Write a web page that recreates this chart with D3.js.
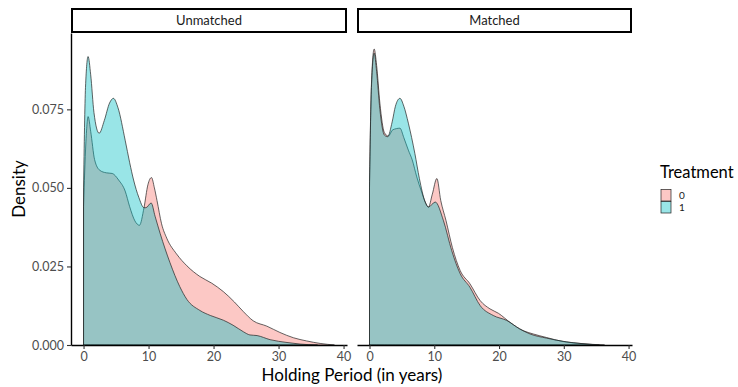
<!DOCTYPE html>
<html>
<head>
<meta charset="UTF-8">
<title>Holding period density</title>
<style>
  body { margin: 0; background: #fff; }
  svg { display: block; font-family: "Lato", "Noto Sans", sans-serif; }
</style>
</head>
<body>
<svg></svg>
<script src="https://d3js.org/d3.v7.min.js"></script>
<script>

let width = 738, height = 387;

// facets and legend groups
const panels = ["Unmatched", "Matched"];
const treatments = ["0", "1"];
const fills = ["#F8766D", "#00BFC4"];

const xTicks = [0, 10, 20, 30, 40];
const yTicks = [0, 0.025, 0.05, 0.075];

// density curves: [years, density]
const unmatched0 = [[0,0.044],[0.35,0.064],[0.7,0.0727],[1.1,0.068],[1.7,0.059],[2.5,0.0556],[3.5,0.0548],
  [4.4,0.0546],[5.4,0.0525],[6.4,0.049],[7.1,0.044],[7.9,0.0395],[8.6,0.0381],[9.3,0.0437],[9.9,0.051],
  [10.45,0.0533],[10.9,0.050],[11.3,0.046],[12.0,0.0386],[12.8,0.034],[14.3,0.029],[15.9,0.0252],
  [17.9,0.0218],[19.7,0.0197],[21.5,0.017],[23.2,0.0137],[24.6,0.0106],[26.1,0.0077],[28.2,0.006],
  [30.2,0.004],[32.3,0.0023],[34.3,0.0013],[36.4,0.0005],[38.6,0]];
const unmatched1 = [[0,0.050],[0.3,0.082],[0.7,0.0918],[1.1,0.086],[1.6,0.074],[2.4,0.0674],[3.2,0.0715],
  [4.0,0.077],[4.6,0.0785],[5.3,0.0755],[6.4,0.0652],[7.1,0.058],[7.7,0.0525],[8.5,0.047],[9.3,0.0437],
  [9.6,0.0437],[10.4,0.0452],[11.0,0.041],[11.8,0.0354],[13.3,0.0262],[14.8,0.0186],[15.9,0.0145],
  [17.9,0.011],[19.5,0.0094],[21.5,0.0079],[23.0,0.0063],[24.6,0.0042],[25.6,0.0032],[26.7,0.003],
  [28.7,0.0017],[31.3,0.0008],[33.3,0.0003],[36,0]];
const matched0 = [[0,0.052],[0.3,0.083],[0.72,0.0942],[1.1,0.089],[1.6,0.077],[2.3,0.0676],[2.9,0.0665],
  [3.6,0.0685],[4.7,0.069],[5.3,0.066],[6.0,0.062],[6.6,0.0589],[7.3,0.0535],[8.0,0.049],[8.6,0.0455],
  [9.1,0.0439],[9.7,0.048],[10.4,0.053],[11.0,0.046],[11.8,0.0397],[12.8,0.031],[14.0,0.0237],
  [15.5,0.0195],[17.1,0.0141],[18.6,0.0115],[19.9,0.0101],[21.7,0.0072],[23.7,0.0046],[25.3,0.0035],
  [27.3,0.0024],[29.9,0.0011],[32.5,0.0005],[36.3,0]];
const matched1 = [[0,0.050],[0.3,0.082],[0.72,0.0929],[1.1,0.087],[1.6,0.075],[2.3,0.0668],[2.8,0.0663],
  [3.5,0.071],[4.0,0.076],[4.7,0.0785],[5.3,0.076],[6.0,0.0706],[7.0,0.061],[7.7,0.053],[8.6,0.0455],
  [9.1,0.0439],[10.15,0.0455],[11.4,0.0397],[12.7,0.030],[14.0,0.0227],[15.5,0.0184],[17.1,0.0125],
  [19.1,0.0094],[21.2,0.0078],[23.2,0.0051],[24.8,0.0035],[27.3,0.0022],[30.4,0.001],[32.5,0.0005],[35.5,0]];

const curves = [[unmatched0, unmatched1], [matched0, matched1]];

let svg = d3.select("svg")
  .attr("width", width)
  .attr("height", height);

const plotTop = 33, plotBottom = 345;
const panelX = [[71, 347], [357, 632]];

let y = d3.scaleLinear().domain([0, 0.0993]).range([plotBottom, plotTop]);

panels.forEach((name, p) => {
  let x = d3.scaleLinear().domain([-1.93, 40.53]).range(panelX[p]);
  let g = svg.append("g");

  let area = d3.area()
    .x(d => x(d[0]))
    .y0(y(0))
    .y1(d => y(d[1]))
    .curve(d3.curveMonotoneX);

  curves[p].forEach((c, i) => {
    g.append("path")
      .attr("d", area(c) + "Z")
      .attr("fill", fills[i])
      .attr("fill-opacity", 0.4)
      .attr("stroke", "#222")
      .attr("stroke-width", 0.7);
  });

  // x axis
  let xa = g.append("g")
    .attr("transform", "translate(0," + plotBottom + ")")
    .call(d3.axisBottom(x).tickValues(xTicks).tickSize(4).tickPadding(3).tickSizeOuter(0));
  xa.select(".domain").attr("stroke", "#000").attr("stroke-width", 1.4);
  xa.selectAll(".tick line").attr("stroke", "#333").attr("stroke-width", 1.1);
  xa.selectAll("text").attr("fill", "#4d4d4d").style("font-size", "12.5px").style("font-family", "Lato");

  if (p == 0) {
    let ya = g.append("g")
      .attr("transform", "translate(" + panelX[p][0] + ",0)")
      .call(d3.axisLeft(y).tickValues(yTicks).tickFormat(d3.format(".3f")).tickSize(4).tickPadding(3).tickSizeOuter(0));
    ya.select(".domain").attr("stroke", "#000").attr("stroke-width", 1.4);
    ya.selectAll(".tick line").attr("stroke", "#333").attr("stroke-width", 1.1);
    ya.selectAll("text").attr("fill", "#4d4d4d").style("font-size", "12.5px").style("font-family", "Lato");
  }

  // strip
  g.append("rect")
    .attr("x", panelX[p][0] + 1)
    .attr("y", 9)
    .attr("width", panelX[p][1] - panelX[p][0] - 2)
    .attr("height", 23)
    .attr("fill", "#fff")
    .attr("stroke", "#000")
    .attr("stroke-width", 2);
  g.append("text")
    .attr("x", (panelX[p][0] + panelX[p][1]) / 2)
    .attr("y", 25)
    .attr("text-anchor", "middle")
    .attr("fill", "#1a1a1a")
    .style("font-size", "13px")
    .text(name);
});

// axis titles
svg.append("text")
  .attr("x", 352)
  .attr("y", 381)
  .attr("text-anchor", "middle")
  .style("font-size", "17px")
  .text("Holding Period (in years)");

svg.append("text")
  .attr("transform", "translate(25,189) rotate(-90)")
  .attr("text-anchor", "middle")
  .style("font-size", "17px")
  .text("Density");

// legend
svg.append("text")
  .attr("x", 660)
  .attr("y", 178)
  .style("font-size", "16.5px")
  .text("Treatment");

treatments.forEach((t, i) => {
  svg.append("rect")
    .attr("x", 661)
    .attr("y", 189.5 + i * 12)
    .attr("width", 10)
    .attr("height", 11.5)
    .attr("fill", fills[i])
    .attr("fill-opacity", 0.4)
    .attr("stroke", "#222")
    .attr("stroke-width", 0.7);
  svg.append("text")
    .attr("x", 679)
    .attr("y", 199 + i * 12)
    .attr("fill", "#1a1a1a")
    .style("font-size", "10px")
    .text(t);
});

</script>
</body>
</html>
